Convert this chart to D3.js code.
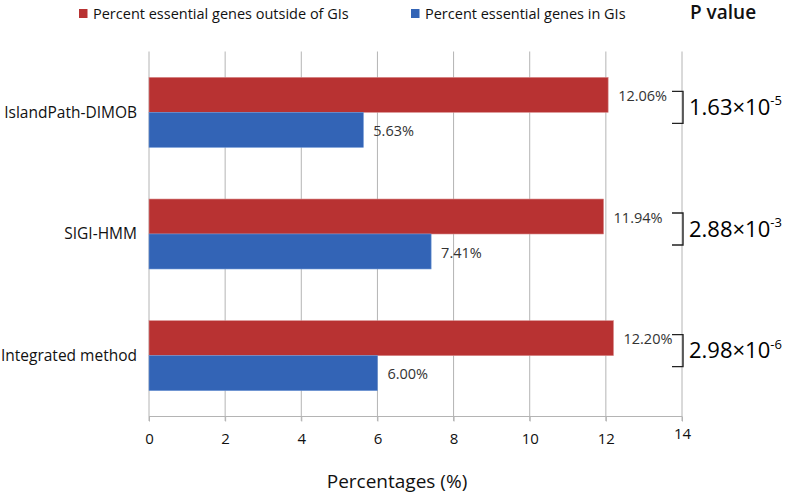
<!DOCTYPE html>
<html>
<head>
<meta charset="utf-8">
<script src="https://cdn.jsdelivr.net/npm/d3@7"></script>
<style>
  body { margin: 0; background: #fff; }
  text { font-family: "Open Sans", "Noto Sans", sans-serif; }
</style>
</head>
<body>
<div id="chart"></div>
<script>
const width = 787;
const height = 494;

const methods = ["IslandPath-DIMOB", "SIGI-HMM", "Integrated method"];
const outsideGIs = [12.06, 11.94, 12.20];
const inGIs = [5.63, 7.41, 6.00];
const pBase = ["1.63", "2.88", "2.98"];
const pExp = ["-5", "-3", "-6"];
const xTicks = [0, 2, 4, 6, 8, 10, 12, 14];
const seriesNames = ["Percent essential genes outside of GIs", "Percent essential genes in GIs"];
const seriesColors = ["#b83232", "#3364b6"];

const svg = d3.select("#chart").append("svg").attr("width", width).attr("height", height);

const x = d3.scaleLinear().domain([0, 14]).range([149, 682]);
const y = d3.scaleBand().domain(methods).range([51.5, 416.5]).paddingInner(0.425).paddingOuter(0.2125);
const ySub = d3.scaleBand().domain([0, 1]).range([0, y.bandwidth()]);

// grid
svg
  .append("g")
  .selectAll("line")
  .data(xTicks)
  .join("line")
  .attr("x1", (d) => x(d))
  .attr("x2", (d) => x(d))
  .attr("y1", 51.5)
  .attr("y2", 421)
  .attr("stroke", "#b4b4b4")
  .attr("stroke-width", 1);

// x axis
const xAxis = d3.axisBottom(x).tickValues(xTicks).tickSize(5).tickPadding(12);
const gx = svg.append("g").attr("transform", "translate(0,416.5)").call(xAxis);
gx.select(".domain").attr("stroke", "#b4b4b4").attr("d", `M${x(0)},0H${x(14)}`);
gx.selectAll(".tick line").attr("stroke", "#b4b4b4");
gx.selectAll(".tick text")
  .attr("font-family", "'Liberation Sans Narrow', 'Open Sans', sans-serif")
  .attr("font-size", 15)
  .attr("fill", "#111")
  .attr("dy", (d) => (d === 14 ? "0.35em" : "0.71em"));

svg
  .append("text")
  .attr("x", 397)
  .attr("y", 488)
  .attr("text-anchor", "middle")
  .attr("font-size", 19)
  .attr("fill", "#111")
  .text("Percentages (%)");

// category labels
svg
  .append("g")
  .selectAll("text")
  .data(methods)
  .join("text")
  .attr("x", 137)
  .attr("y", (d) => y(d) + y.bandwidth() / 2)
  .attr("dy", "0.35em")
  .attr("text-anchor", "end")
  .attr("font-size", 15.5)
  .attr("fill", "#111")
  .text((d) => d);

// bars
const rows = methods.map((m, i) => ({ m, i, vals: [outsideGIs[i], inGIs[i]] }));
const groups = svg
  .append("g")
  .selectAll("g")
  .data(rows)
  .join("g")
  .attr("transform", (d) => `translate(0,${y(d.m)})`);

groups
  .selectAll("rect")
  .data((d) => d.vals.map((v, k) => ({ v, k })))
  .join("rect")
  .attr("x", x(0))
  .attr("y", (d) => ySub(d.k))
  .attr("width", (d) => x(d.v) - x(0))
  .attr("height", ySub.bandwidth())
  .attr("fill", (d) => seriesColors[d.k])
  .attr("stroke", (d) => (d.k === 0 ? "#d88a8a" : "#6a93d4"))
  .attr("stroke-width", 0.6);

groups
  .selectAll("text.val")
  .data((d) => d.vals.map((v, k) => ({ v, k })))
  .join("text")
  .attr("class", "val")
  .attr("x", (d) => x(d.v) + 10)
  .attr("y", (d) => ySub(d.k) + ySub.bandwidth() / 2 + 1)
  .attr("dy", "0.35em")
  .attr("font-size", 14.5)
  .attr("fill", "#333")
  .text((d) => d.v.toFixed(2) + "%");

// p-value brackets
const pg = svg
  .append("g")
  .selectAll("g")
  .data(rows)
  .join("g")
  .attr("transform", (d) => `translate(0,${y(d.m) + y.bandwidth() / 2})`);

pg.append("path")
  .attr("d", `M${x(14) - 10},-21H${x(14) + 1}V11H${x(14) - 10}`)
  .attr("fill", "none")
  .attr("stroke", "#222")
  .attr("stroke-width", 1.4);

const pt = pg
  .append("text")
  .attr("x", x(14) + 7)
  .attr("y", -5)
  .attr("dy", "0.35em")
  .attr("font-size", 22)
  .attr("fill", "#000");
pt.append("tspan").text((d) => pBase[d.i] + "×10");
pt.append("tspan")
  .attr("font-size", 13)
  .attr("dy", "-0.75em")
  .text((d) => pExp[d.i]);

svg
  .append("text")
  .attr("x", 690)
  .attr("y", 19)
  .attr("font-size", 19)
  .attr("font-weight", 600)
  .attr("fill", "#111")
  .text("P value");

// legend
const legX = [79, 411];
const leg = svg
  .append("g")
  .selectAll("g")
  .data(seriesNames)
  .join("g")
  .attr("transform", (d, i) => `translate(${legX[i]},9)`);
leg.append("rect").attr("width", 8.5).attr("height", 9).attr("fill", (d, i) => seriesColors[i]);
leg
  .append("text")
  .attr("x", 14)
  .attr("y", 5)
  .attr("dy", "0.35em")
  .attr("font-family", "'Liberation Sans Narrow', 'Open Sans', sans-serif")
  .attr("font-size", 14.5)
  .attr("fill", "#111")
  .text((d) => d);
</script>
</body>
</html>
